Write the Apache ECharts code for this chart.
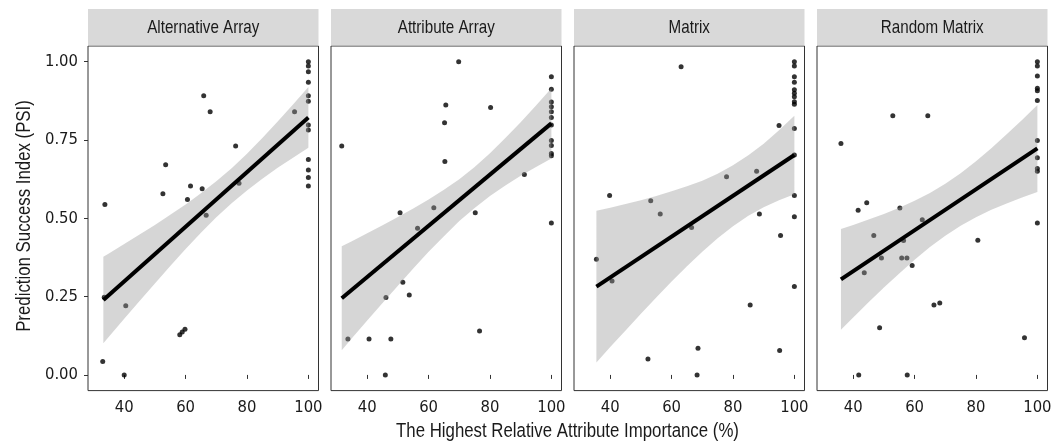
<!DOCTYPE html>
<html>
<head>
<meta charset="utf-8">
<script src="https://cdn.jsdelivr.net/npm/echarts@6/dist/echarts.min.js"></script>
<style>
html,body{margin:0;padding:0;background:#fff;}
#c{width:1055px;height:445px;}
</style>
</head>
<body>
<div id="c"></div>
<script>
// ---- data ----
const panelNames = ["Alternative Array", "Attribute Array", "Matrix", "Random Matrix"];
const xTicks = [40, 60, 80, 100];
const yTicks = [0, 0.25, 0.5, 0.75, 1.0];
const xTitle = "The Highest Relative Attribute Importance (%)";
const yTitle = "Prediction Success Index (PSI)";

const altX = [100,100,100,100,100,100,100,100,100,100,100,100,95.5,65.9,68.0,76.3,53.5,52.6,61.6,65.4,60.6,77.4,66.7,33.7,33.5,40.5,58.1,58.9,59.8,33.0,40.0];
const altY = [1.00,0.986,0.968,0.934,0.891,0.874,0.798,0.782,0.688,0.654,0.630,0.603,0.840,0.891,0.840,0.731,0.671,0.578,0.603,0.594,0.560,0.612,0.510,0.544,0.248,0.221,0.128,0.137,0.146,0.043,0.0];

const attX = [69.8,100,100,100,100,100,100,100,100,100,100,100,100,65.6,80.2,65.2,31.7,65.3,91.2,61.7,50.7,75.2,56.4,51.6,46.1,53.7,76.6,33.7,40.6,47.7,45.9];
const attY = [1.00,0.952,0.912,0.871,0.856,0.840,0.822,0.798,0.748,0.732,0.707,0.700,0.485,0.862,0.854,0.805,0.731,0.681,0.640,0.534,0.518,0.518,0.468,0.296,0.247,0.255,0.140,0.115,0.115,0.115,0.0];

const matX = [100,100,100,100,100,100,100,100,100,100,100,100,100,100,63.1,95.0,87.7,77.9,39.8,53.2,56.3,88.6,66.5,95.5,35.5,40.6,85.6,68.6,95.2,52.3,68.3];
const matY = [1.00,0.986,0.952,0.934,0.910,0.899,0.888,0.872,0.864,0.787,0.702,0.573,0.505,0.282,0.984,0.796,0.650,0.633,0.573,0.556,0.514,0.514,0.471,0.445,0.369,0.300,0.223,0.085,0.078,0.051,0.0];

const rndX = [100,100,100,100,100,100,100,100,100,100,100,52.9,64.3,36.0,44.4,41.6,55.2,62.5,46.7,56.4,80.6,49.2,55.8,57.5,59.2,43.6,66.3,68.2,48.6,95.8,41.8,57.6];
const rndY = [1.00,0.986,0.954,0.915,0.907,0.876,0.748,0.693,0.659,0.650,0.485,0.827,0.827,0.739,0.550,0.526,0.533,0.495,0.445,0.429,0.430,0.373,0.373,0.373,0.349,0.326,0.223,0.230,0.151,0.119,0.0,0.0];

// fitted lines (start, end)
const altFitX = [33.2, 100], altFitY = [0.239, 0.822];
const attFitX = [31.7, 100], attFitY = [0.245, 0.803];
const matFitX = [35.5, 100], matFitY = [0.282, 0.702];
const rndFitX = [36.0, 100], rndFitY = [0.305, 0.723];

// confidence bands (x, lower, upper)
const altBandX  = [33.2,35,40,45,50,55,60,65,70,75,80,85,90,95,100];
const altBandLo = [0.101,0.122,0.179,0.236,0.292,0.348,0.402,0.454,0.503,0.548,0.589,0.626,0.661,0.693,0.725];
const altBandHi = [0.377,0.388,0.418,0.448,0.479,0.511,0.544,0.580,0.618,0.660,0.706,0.756,0.809,0.863,0.919];

const attBandX  = [31.7,35,40,45,50,55,60,65,70,75,80,85,90,95,100];
const attBandLo = [0.079,0.117,0.174,0.230,0.285,0.340,0.393,0.443,0.491,0.533,0.571,0.605,0.636,0.664,0.691];
const attBandHi = [0.411,0.427,0.452,0.478,0.504,0.531,0.560,0.591,0.625,0.664,0.708,0.756,0.807,0.860,0.915];

const matBandX  = [35.5,40,45,50,55,60,65,70,75,80,85,90,95,100];
const matBandLo = [0.040,0.089,0.142,0.195,0.247,0.298,0.347,0.393,0.436,0.475,0.508,0.535,0.558,0.577];
const matBandHi = [0.524,0.534,0.546,0.558,0.571,0.586,0.602,0.620,0.642,0.669,0.701,0.738,0.781,0.827];

const rndBandX  = [36,40,45,50,55,60,65,70,75,80,85,90,95,100];
const rndBandLo = [0.144,0.183,0.232,0.279,0.324,0.368,0.408,0.444,0.476,0.503,0.527,0.547,0.566,0.584];
const rndBandHi = [0.466,0.479,0.496,0.514,0.534,0.556,0.581,0.610,0.644,0.682,0.724,0.768,0.814,0.862];

// ---- assembly ----
const panels = [
  {x: altX, y: altY, fx: altFitX, fy: altFitY, bx: altBandX, lo: altBandLo, hi: altBandHi},
  {x: attX, y: attY, fx: attFitX, fy: attFitY, bx: attBandX, lo: attBandLo, hi: attBandHi},
  {x: matX, y: matY, fx: matFitX, fy: matFitY, bx: matBandX, lo: matBandLo, hi: matBandHi},
  {x: rndX, y: rndY, fx: rndFitX, fy: rndFitY, bx: rndBandX, lo: rndBandLo, hi: rndBandHi}
];

const TICKFONT = "'DejaVu Sans Condensed', 'Liberation Sans', sans-serif";
const TFONT = "'Liberation Sans', Arial, sans-serif";
const NARROW = 0.82;
const lefts = [88, 331, 574, 817];
const W = 230.5, TOP = 46, H = 344.6;
const XMIN = 28.2, XMAX = 103.3, YMIN = -0.05, YMAX = 1.05;

const grids = [], xAxes = [], yAxes = [], series = [], graphics = [];
panels.forEach((p, i) => {
  grids.push({left: lefts[i], top: TOP, width: W, height: H, show: true,
    borderColor: '#333', borderWidth: 1, backgroundColor: '#fff', containLabel: false});
  xAxes.push({type: 'value', gridIndex: i, min: XMIN, max: XMAX,
    splitLine: {show: false}, axisLine: {show: false},
    axisTick: {show: true, length: 4, lineStyle: {color: '#333', width: 1}, customValues: xTicks},
    axisLabel: {show: true, customValues: xTicks, margin: 9, color: '#1a1a1a', fontSize: 16.5, fontFamily: TICKFONT}
  });
  yAxes.push({type: 'value', gridIndex: i, min: YMIN, max: YMAX,
    splitLine: {show: false}, axisLine: {show: false},
    axisTick: {show: i === 0, length: 4, lineStyle: {color: '#333', width: 1}, customValues: yTicks},
    axisLabel: {show: i === 0, customValues: yTicks, margin: 10, color: '#1a1a1a', fontSize: 16.5, fontFamily: TICKFONT,
      formatter: v => v.toFixed(2)}
  });
  series.push({type: 'scatter', xAxisIndex: i, yAxisIndex: i, z: 2,
    symbolSize: 5, itemStyle: {color: '#000'},
    data: p.x.map((v, k) => [v, p.y[k]]), silent: true});
  series.push({type: 'custom', xAxisIndex: i, yAxisIndex: i, z: 3, silent: true,
    data: [[p.bx[0], p.lo[0]]],
    renderItem: (params, api) => {
      const pts = [];
      p.bx.forEach((bx, k) => pts.push(api.coord([bx, p.hi[k]])));
      for (let k = p.bx.length - 1; k >= 0; k--) pts.push(api.coord([p.bx[k], p.lo[k]]));
      return {type: 'polygon', shape: {points: pts, smooth: 0},
        style: {fill: 'rgba(153,153,153,0.4)', stroke: null}};
    }});
  series.push({type: 'line', xAxisIndex: i, yAxisIndex: i, z: 4, silent: true,
    symbol: 'none', lineStyle: {color: '#000', width: 4},
    data: p.fx.map((v, k) => [v, p.fy[k]])});
  graphics.push({type: 'rect', shape: {x: lefts[i], y: 9, width: W, height: 36.5},
    style: {fill: '#d9d9d9'}, silent: true});
  graphics.push({type: 'text', x: lefts[i] + W / 2, y: 28, scaleX: NARROW,
    style: {text: panelNames[i], textAlign: 'center', textVerticalAlign: 'middle',
      fontSize: 18.5, fontFamily: TFONT, fill: '#1a1a1a'}, silent: true});
});
graphics.push({type: 'text', x: 567.5, y: 431, scaleX: NARROW,
  style: {text: xTitle, textAlign: 'center', textVerticalAlign: 'middle',
    fontSize: 20.5, fontFamily: TFONT, fill: '#1a1a1a'}, silent: true});
graphics.push({type: 'text', x: 24, y: 216, rotation: Math.PI / 2, scaleX: NARROW,
  style: {text: yTitle, textAlign: 'center', textVerticalAlign: 'middle',
    fontSize: 20.5, fontFamily: TFONT, fill: '#1a1a1a'}, silent: true});

const chart = echarts.init(document.getElementById('c'), null, {renderer: 'canvas'});
chart.setOption({
  animation: false,
  backgroundColor: '#fff',
  grid: grids, xAxis: xAxes, yAxis: yAxes, series: series, graphic: graphics
});
</script>
</body>
</html>
